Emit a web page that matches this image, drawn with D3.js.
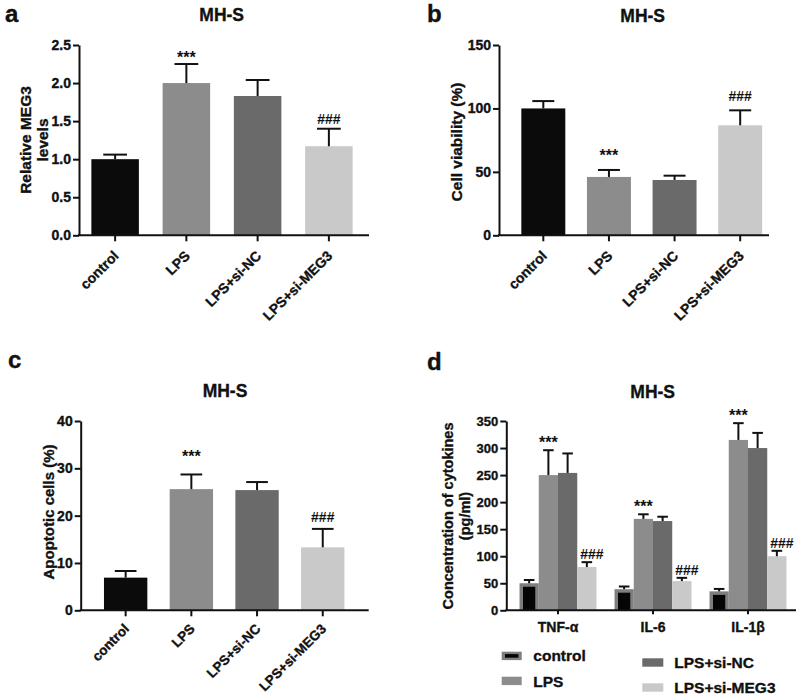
<!DOCTYPE html>
<html><head><meta charset="utf-8">
<script src="https://cdn.jsdelivr.net/npm/d3@7/dist/d3.min.js"></script>
<style>
body{margin:0;background:#fff;}
svg{display:block;}
</style></head><body>
<svg id="chart" width="800" height="695"></svg>
<script>
// ---------- data ----------
const groups = ["control", "LPS", "LPS+si-NC", "LPS+si-MEG3"];
const groupColors = ["#0b0b0b", "#8c8c8c", "#6a6a6a", "#c9c9c9"];
const sigMarks = ["", "***", "", "###"];

const megMean = [1.00, 2.00, 1.83, 1.17];
const megErr = [0.06, 0.25, 0.21, 0.23];
const megTicks = [0, 0.5, 1.0, 1.5, 2.0, 2.5];

const viabMean = [100, 46, 43.6, 86.7];
const viabErr = [5.8, 5.5, 3.4, 11.8];
const viabTicks = [0, 50, 100, 150];

const apopMean = [6.9, 25.6, 25.4, 13.3];
const apopErr = [1.4, 3.1, 1.7, 3.9];
const apopTicks = [0, 10, 20, 30, 40];

const cytokines = ["TNF-α", "IL-6", "IL-1β"];
const cytoControl = [50, 39, 35];
const cytoControlErr = [6, 5, 4.5];
const cytoLPS = [250, 169, 315];
const cytoLPSErr = [46, 8.5, 31];
const cytoSiNC = [254, 165, 300];
const cytoSiNCErr = [36, 8, 28];
const cytoSiMEG3 = [80, 54, 100];
const cytoSiMEG3Err = [9, 6, 10];
const cytoTicks = [0, 50, 100, 150, 200, 250, 300, 350];
const cytoSigMarks = ["", "***", "", "###"];

// ---------- setup ----------
const FONT = '"Liberation Sans", Arial, Helvetica, sans-serif';
const INK = "#111";
const svg = d3.select("#chart")
  .attr("font-family", FONT).attr("font-weight", "bold");

function thick(sel) {
  return sel.attr("stroke", INK).attr("stroke-width", 0.35).attr("paint-order", "stroke");
}
function styleAxis(ag, fs) {
  ag.attr("font-family", FONT).attr("font-weight", "bold");
  ag.selectAll("line").attr("stroke", INK).attr("stroke-width", 2);
  ag.selectAll("path").attr("stroke", INK).attr("stroke-width", 2);
  thick(ag.selectAll("text").attr("fill", INK).attr("font-size", fs));
}

function letter(t, x, y) {
  thick(svg.append("text").attr("x", x).attr("y", y).attr("font-size", 24)
    .attr("fill", INK).text(t));
}
function title(x, y) {
  thick(svg.append("text").attr("x", x).attr("y", y).attr("text-anchor", "middle")
    .attr("font-size", 17.5).attr("fill", INK).text("MH-S"));
}
function yLabel(lines, xs, yc, fs) {
  lines.forEach((t, i) => {
    thick(svg.append("text")
      .attr("transform", `translate(${xs[i]},${yc}) rotate(-90)`)
      .attr("text-anchor", "middle").attr("dominant-baseline", "central")
      .attr("font-size", fs).attr("fill", INK).text(t));
  });
}

function errorBars(g, data, capW) {
  const eg = g.append("g").attr("stroke", INK).attr("stroke-width", 2);
  eg.selectAll("line.v").data(data).join("line")
    .attr("x1", d => d.cx).attr("x2", d => d.cx)
    .attr("y1", d => d.y0).attr("y2", d => d.y1);
  eg.selectAll("line.h").data(data).join("line")
    .attr("x1", d => d.cx - capW / 2).attr("x2", d => d.cx + capW / 2)
    .attr("y1", d => d.y1).attr("y2", d => d.y1);
}

function simplePanel(cfg) {
  const g = svg.append("g");
  const x = d3.scaleBand().domain(groups).range(cfg.xRange)
    .paddingInner(cfg.pad).paddingOuter(cfg.pad / 2);
  const y = d3.scaleLinear().domain(cfg.yDomain).range(cfg.yRange);
  const bw = x.bandwidth();
  const data = groups.map((gname, i) => ({
    g: gname, v: cfg.mean[i], e: cfg.err[i], c: groupColors[i], s: sigMarks[i],
    cx: x(gname) + bw / 2, y0: y(cfg.mean[i]), y1: y(cfg.mean[i] + cfg.err[i])
  }));
  g.selectAll("rect.bar").data(data).join("rect")
    .attr("x", d => x(d.g)).attr("width", bw)
    .attr("y", d => y(d.v)).attr("height", d => y(0) - y(d.v))
    .attr("fill", d => d.c);
  errorBars(g, data, bw * 0.5);
  // significance
  g.selectAll("text.sig").data(data.filter(d => d.s)).join("text")
    .attr("x", d => d.cx)
    .attr("y", d => d.y1 - (d.s === "***" ? cfg.starGap : cfg.hashGap))
    .attr("text-anchor", "middle")
    .attr("font-size", d => d.s === "***" ? 16 : 14).attr("fill", INK)
    .text(d => d.s);
  // y axis
  const ya = g.append("g").attr("transform", `translate(${cfg.axisX},0)`)
    .call(d3.axisLeft(y).tickValues(cfg.ticks).tickFormat(cfg.fmt)
      .tickSize(6).tickSizeOuter(0).tickPadding(2));
  styleAxis(ya, 14);
  // x axis
  const xa = g.append("g").attr("transform", `translate(0,${y(0)})`)
    .call(d3.axisBottom(x).tickSize(6).tickSizeOuter(0));
  xa.select(".domain").remove();
  styleAxis(xa, cfg.xfs);
  xa.selectAll(".tick text")
    .attr("y", 0).attr("dy", "0.35em").attr("text-anchor", "end")
    .attr("transform", `translate(1,${cfg.xoff}) rotate(-45)`);
  g.append("line").attr("x1", cfg.axisX - 1).attr("x2", cfg.xEnd)
    .attr("y1", y(0)).attr("y2", y(0)).attr("stroke", INK).attr("stroke-width", 2);
}

// ---------- panel a ----------
letter("a", 5, 22);
title(221.7, 20.7);
yLabel(["Relative MEG3", "levels"], [25, 42], 140, 15.5);
simplePanel({
  xRange: [79.5, 364.5], pad: 0.333, yDomain: [0, 2.5], yRange: [235.3, 45],
  mean: megMean, err: megErr, ticks: megTicks, fmt: d3.format(".1f"),
  axisX: 79, xEnd: 369, starGap: 1, hashGap: 5, xfs: 14, xoff: 18
});

// ---------- panel b ----------
letter("b", 427, 22);
title(642.7, 21.5);
yLabel(["Cell viability (%)"], [456], 142, 15.5);
simplePanel({
  xRange: [510.5, 773], pad: 0.33, yDomain: [0, 150], yRange: [235.3, 45],
  mean: viabMean, err: viabErr, ticks: viabTicks, fmt: d3.format("d"),
  axisX: 499, xEnd: 769, starGap: 9, hashGap: 9, xfs: 14, xoff: 18
});

// ---------- panel c ----------
letter("c", 8, 368);
title(225, 397);
yLabel(["Apoptotic cells (%)"], [48], 512, 15);
simplePanel({
  xRange: [92.8, 355.6], pad: 0.34, yDomain: [0, 40], yRange: [610.3, 421],
  mean: apopMean, err: apopErr, ticks: apopTicks, fmt: d3.format("d"),
  axisX: 80.7, xEnd: 368.7, starGap: 12, hashGap: 7, xfs: 13.5, xoff: 16
});

// ---------- panel d ----------
letter("d", 427, 370);
title(652.7, 398);
yLabel(["Concentration of cytokines", "(pg/ml)"], [448.3, 465], 516, 14.5);
(function () {
  const g = svg.append("g");
  const series = [cytoControl, cytoLPS, cytoSiNC, cytoSiMEG3];
  const errs = [cytoControlErr, cytoLPSErr, cytoSiNCErr, cytoSiMEG3Err];
  const x0 = d3.scaleBand().domain(cytokines).range([510.5, 795.5])
    .paddingInner(0.19).paddingOuter(0.095);
  const x1 = d3.scaleBand().domain(groups).range([0, x0.bandwidth()]);
  const y = d3.scaleLinear().domain([0, 350]).range([610.3, 421]);
  const bw = x1.bandwidth();
  const data = [];
  cytokines.forEach((c, i) => groups.forEach((gname, j) => {
    const v = series[j][i], e = errs[j][i];
    data.push({
      c, g: gname, j, v, e, col: groupColors[j], s: cytoSigMarks[j],
      x: x0(c) + x1(gname), cx: x0(c) + x1(gname) + bw / 2,
      y0: y(v), y1: y(v + e)
    });
  }));
  const isCtrl = d => d.j === 0;
  g.selectAll("rect.bar").data(data).join("rect")
    .attr("x", d => d.x).attr("width", bw)
    .attr("y", d => d.y0).attr("height", d => y(0) - d.y0)
    .attr("fill", d => isCtrl(d) ? "#7e7e7e" : d.col);
  // inner black of control bars
  const inset = 3.5;
  g.selectAll("rect.inner").data(data.filter(isCtrl)).join("rect")
    .attr("x", d => d.x + inset).attr("width", bw - 2 * inset)
    .attr("y", d => d.y0 + inset).attr("height", d => y(0) - d.y0 - inset)
    .attr("fill", "#050505");
  errorBars(g, data, bw * 0.55);
  g.selectAll("text.sig").data(data.filter(d => d.s)).join("text")
    .attr("x", d => d.cx + (d.s === "###" ? 5 : 0))
    .attr("y", d => d.y1 - (d.s === "***" ? 2 : 3))
    .attr("text-anchor", "middle")
    .attr("font-size", d => d.s === "***" ? 16 : 14).attr("fill", INK)
    .text(d => d.s);
  const ya = g.append("g").attr("transform", "translate(506.3,0)")
    .call(d3.axisLeft(y).tickValues(cytoTicks).tickFormat(d3.format("d"))
      .tickSize(6).tickSizeOuter(0).tickPadding(2));
  styleAxis(ya, 13);
  const xa = g.append("g").attr("transform", `translate(0,${y(0)})`)
    .call(d3.axisBottom(x0).tickSize(4).tickSizeOuter(0).tickPadding(8));
  xa.select(".domain").remove();
  styleAxis(xa, 14);
  g.append("line").attr("x1", 505.3).attr("x2", 796)
    .attr("y1", y(0)).attr("y2", y(0)).attr("stroke", INK).attr("stroke-width", 2);

  // legend
  const legendItems = [
    { name: groups[0], col: groupColors[0], sx: 501.7, sy: 651.7, sw: 20, tx: 533.3, ty: 655.7 },
    { name: groups[1], col: groupColors[1], sx: 501.7, sy: 676.7, sw: 20, tx: 533.3, ty: 681 },
    { name: groups[2], col: groupColors[2], sx: 642.3, sy: 658.3, sw: 21, tx: 674.3, ty: 662.3 },
    { name: groups[3], col: groupColors[3], sx: 642.3, sy: 683.3, sw: 21, tx: 674.3, ty: 687.3 }
  ];
  const lg = svg.append("g");
  lg.selectAll("rect.sw").data(legendItems).join("rect")
    .attr("x", d => d.sx).attr("y", d => d.sy).attr("width", d => d.sw).attr("height", 8.4)
    .attr("fill", (d, i) => i === 0 ? "#7e7e7e" : d.col);
  lg.append("rect").attr("x", legendItems[0].sx + 3.3).attr("y", legendItems[0].sy + 2.4)
    .attr("width", legendItems[0].sw - 6.6).attr("height", 3.6).attr("fill", "#050505");
  thick(lg.selectAll("text").data(legendItems).join("text")
    .attr("x", d => d.tx).attr("y", d => d.ty).attr("dominant-baseline", "central")
    .attr("font-size", 15.5).attr("fill", INK).text(d => d.name));
})();
</script>
</body></html>
